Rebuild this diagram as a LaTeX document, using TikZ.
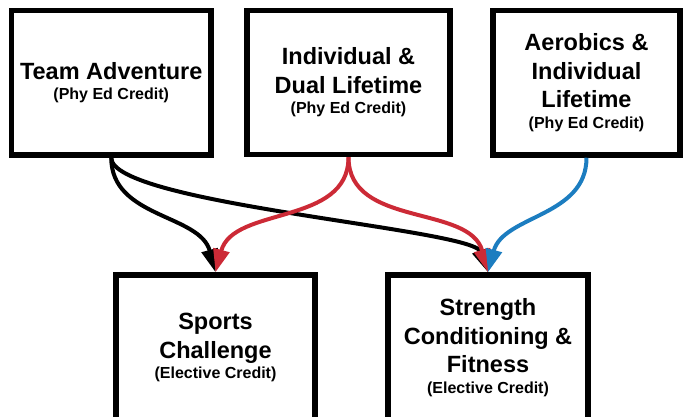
\documentclass[tikz,border=0pt]{standalone}
\usepackage{fontspec}
\setmainfont{Liberation Sans}
\usetikzlibrary{arrows.meta}
\definecolor{credred}{RGB}{204,42,54}
\definecolor{credblue}{RGB}{28,125,192}
\newcommand{\crednote}[1]{{\fontsize{16}{19}\selectfont #1}}

\begin{document}
\begin{tikzpicture}[x=1pt,y=-1pt,
  course/.style={draw, line width=5.5pt, align=center, inner sep=0pt,
    font=\bfseries\fontsize{23.5}{28.5}\selectfont},
  link/.style={line width=4pt, -{Triangle[length=23pt,width=16pt]}}]
\useasboundingbox (0,0) rectangle (683,417);
\clip (0,0) rectangle (683,417);
% phy ed courses
    \node (ta) at (111.25,82.75) [course, minimum width=199.5pt, minimum height=144.5pt] {Team Adventure\\[-8pt]\crednote{(Phy Ed Credit)}};
    \node (idl) at (348.5,82.5) [course, minimum width=203pt, minimum height=144pt] {Individual \&\\Dual Lifetime\\[-8pt]\crednote{(Phy Ed Credit)}};
    \node (ail) at (586.5,82.75) [course, minimum width=187pt, minimum height=144.5pt] {Aerobics \&\\Individual\\Lifetime\\[-8pt]\crednote{(Phy Ed Credit)}};
% elective courses
    \node (sc) at (215.5,347.5) [course, minimum width=199pt, minimum height=145pt] {Sports\\Challenge\\[-8pt]\crednote{(Elective Credit)}};
    \node (scf) at (488,347.5) [course, minimum width=200pt, minimum height=145pt] {Strength\\Conditioning \&\\Fitness\\[-8pt]\crednote{(Elective Credit)}};
% arrows
\draw[link] (ta.south) to[out=-90,in=105] (sc.north);
\draw[link] (ta.south) to[out=-90,in=110,looseness=0.3] (scf.north);
\draw[link,credred] (idl.south) to[out=-90,in=75] (sc.north);
\draw[link,credred] (idl.south) to[out=-90,in=105] (scf.north);
\draw[link,credblue] (ail.south) to[out=-90,in=75] (scf.north);
\end{tikzpicture}
\end{document}
